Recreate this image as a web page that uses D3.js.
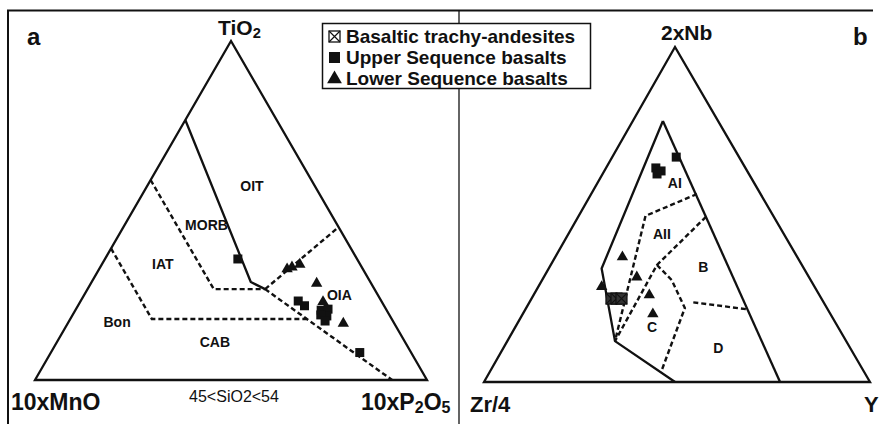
<!DOCTYPE html>
<html>
<head>
<meta charset="utf-8">
<script src="https://cdn.jsdelivr.net/npm/d3@7"></script>
<style>
  html, body { margin: 0; padding: 0; background: #fff; }
  svg { display: block; }
  text { font-family: "Liberation Sans", Arial, Helvetica, sans-serif; fill: #111; }
</style>
</head>
<body>
<svg id="chart" width="880" height="424"></svg>
<script>
// ---------- Diagram a: TiO2 – 10xMnO – 10xP2O5 (values as [TiO2, MnO, P2O5]) ----------
const mullenSolid = [
  [[76.7, 23.3, 0], [28.9, 30.5, 40.6], [26.8, 27.9, 45.3]]
];
const mullenDashed = [
  [[26.8, 27.9, 45.3], [0, 8.9, 91.1]],
  [[26.8, 27.9, 45.3], [45.1, 0, 54.9]],
  [[59.0, 41.0, 0], [26.8, 41.0, 32.2], [26.8, 27.9, 45.3]],
  [[38.8, 61.2, 0], [18.0, 61.2, 20.8], [18.0, 21.7, 60.3]]
];
const mullenFields = ["OIT", "MORB", "IAT", "Bon", "CAB", "OIA"];
const mullenFieldAt = [[57.3, 16.0, 26.7], [45.7, 33.4, 20.9], [34.2, 50.3, 15.5], [17.1, 70.5, 12.4], [11.2, 48.5, 40.3], [25.1, 9.8, 65.1]];
const mullenUpper = [
  [35.7, 30.4, 33.9], [23.3, 21.2, 55.5], [21.9, 20.3, 57.8],
  [20.6, 16.7, 62.7], [20.9, 14.8, 64.3], [18.9, 16.1, 65.0],
  [19.2, 17.5, 63.3], [17.4, 17.3, 65.3], [8.1, 13.1, 78.8]
];
const mullenLower = [
  [32.7, 19.3, 47.9], [33.3, 17.8, 48.9], [34.1, 15.4, 50.5],
  [28.5, 13.9, 57.6], [23.1, 15.0, 62.0], [16.7, 13.0, 70.3]
];

// ---------- Diagram b: 2xNb – Zr/4 – Y (values as [2Nb, Zr/4, Y]) ----------
const meschedeSolid = [
  [[77.9, 14.3, 7.8], [33.9, 52.4, 13.7], [12.2, 59.9, 27.9], [0, 50.5, 49.5]],
  [[77.9, 14.3, 7.8], [0, 23.3, 76.7]]
];
const meschedeDashed = [
  [[56.1, 16.5, 27.4], [49.6, 33.1, 17.3], [12.2, 59.9, 27.9]],
  [[49.3, 17.6, 33.1], [34.9, 37.5, 27.5], [12.2, 59.9, 27.9]],
  [[34.9, 37.5, 27.5], [30.4, 36.0, 33.6], [22.1, 36.8, 41.1], [3.0, 52.6, 44.4]],
  [[23.8, 33.8, 42.5], [21.7, 20.8, 57.5]]
];
const meschedeFields = ["AI", "AII", "B", "C", "D"];
const meschedeFieldAt = [[59.5, 20.5, 20.0], [44.2, 31.6, 24.2], [34.4, 25.8, 39.8], [16.5, 48.1, 35.4], [10.2, 34.1, 55.6]];
const meschedeTrachy = [[24.9, 54.4, 20.7], [24.9, 53.1, 22.0], [24.9, 51.8, 23.3]];
const meschedeUpper = [[63.9, 23.2, 12.9], [63.0, 22.3, 14.7], [62.1, 23.8, 14.1], [67.2, 16.3, 16.6]];
const meschedeLower = [[37.3, 45.3, 17.4], [31.3, 44.6, 24.1], [28.4, 55.1, 16.4], [26.0, 44.1, 30.0], [20.3, 46.0, 33.7]];

const legendLabels = ["Basaltic trachy-andesites", "Upper Sequence basalts", "Lower Sequence basalts"];

// ---------- drawing ----------
const svg = d3.select("#chart");
svg.append("rect").attr("width", 880).attr("height", 424).attr("fill", "#fff");

// outer frame and panel divider
svg.append("path").attr("d", "M8,430 L8,10.5 L873,10.5").attr("fill", "none").attr("stroke", "#111").attr("stroke-width", 2);
svg.append("line").attr("x1", 459).attr("x2", 459).attr("y1", 10).attr("y2", 430).attr("stroke", "#111").attr("stroke-width", 1.3);

// ternary projection built on two linear scales
function ternary(tri) {
  const x = d3.scaleLinear().domain([0, 1]).range([tri.L[0], tri.R[0]]);
  const y = d3.scaleLinear().domain([0, 1]).range([tri.L[1], tri.T[1]]);
  const apex = (tri.T[0] - tri.L[0]) / (tri.R[0] - tri.L[0]);
  return ([a, b, c]) => {
    const s = a + b + c, t = a / s, r = c / s;
    return [x(r + t * apex), y(t)];
  };
}

const line = d3.line();

function drawPanel(g, proj, spec) {
  // triangle outline
  g.append("path").attr("d", line([[100, 0, 0], [0, 100, 0], [0, 0, 100]].map(proj)) + "Z")
    .attr("fill", "none").attr("stroke", "#111").attr("stroke-width", 2.3).attr("stroke-linejoin", "miter");
  g.selectAll(null).data(spec.dashed).join("path")
    .attr("d", d => line(d.map(proj)))
    .attr("fill", "none").attr("stroke", "#111").attr("stroke-width", 2.4).attr("stroke-dasharray", "5,3");
  g.selectAll(null).data(spec.solid).join("path")
    .attr("d", d => line(d.map(proj)))
    .attr("fill", "none").attr("stroke", "#111").attr("stroke-width", 2.3).attr("stroke-linejoin", "round");
  g.selectAll(null).data(spec.fields).join("text")
    .attr("x", (d, i) => proj(spec.fieldAt[i])[0])
    .attr("y", (d, i) => proj(spec.fieldAt[i])[1])
    .attr("text-anchor", "middle").attr("dominant-baseline", "central")
    .attr("font-size", 14).attr("font-weight", "bold").text(d => d);
}

const squareSym = d3.symbol().type(d3.symbolSquare).size(81);
const triSym = d3.symbol().type(d3.symbolTriangle).size(56);

function drawPoints(g, proj, pts, kind) {
  if (kind === "square") {
    g.selectAll(null).data(pts).join("path")
      .attr("transform", d => `translate(${proj(d)})`).attr("d", squareSym()).attr("fill", "#111");
  } else if (kind === "triangle") {
    g.selectAll(null).data(pts).join("path")
      .attr("transform", d => `translate(${proj(d)})`).attr("d", triSym()).attr("fill", "#111");
  } else {
    const s = 5.5;
    const cell = g.selectAll(null).data(pts).join("g").attr("transform", d => `translate(${proj(d)})`);
    cell.append("rect").attr("x", -s).attr("y", -s).attr("width", 2 * s).attr("height", 2 * s)
      .attr("fill", "#333").attr("stroke", "#111").attr("stroke-width", 1.2);
    cell.append("path").attr("d", `M${-s},${-s}L${s},${s}M${s},${-s}L${-s},${s}`)
      .attr("stroke", "#111").attr("stroke-width", 1.2);
  }
}

// panel a
const projA = ternary({ L: [35, 380], R: [427, 380], T: [231, 41] });
const gA = svg.append("g");
drawPanel(gA, projA, { solid: mullenSolid, dashed: mullenDashed, fields: mullenFields, fieldAt: mullenFieldAt });
drawPoints(gA, projA, mullenUpper, "square");
drawPoints(gA, projA, mullenLower, "triangle");

// panel b
const projB = ternary({ L: [484, 382], R: [870, 382], T: [675, 47] });
const gB = svg.append("g");
drawPanel(gB, projB, { solid: meschedeSolid, dashed: meschedeDashed, fields: meschedeFields, fieldAt: meschedeFieldAt });
drawPoints(gB, projB, meschedeTrachy, "crossed");
drawPoints(gB, projB, meschedeUpper, "square");
drawPoints(gB, projB, meschedeLower, "triangle");

// corner and panel labels
function label(x, y, parts, size, weight = "bold") {
  const t = svg.append("text").attr("x", x).attr("y", y).attr("font-size", size).attr("font-weight", weight);
  parts.forEach(p => {
    if (typeof p === "string") t.append("tspan").text(p);
    else t.append("tspan").attr("font-size", size * 0.7).attr("dy", p.dy).text(p.sub);
  });
  return t;
}
label(27, 45, ["a"], 24);
label(853, 45, ["b"], 24);
label(218, 35, ["TiO", { sub: "2", dy: 3 }], 21);
label(661, 40, ["2xNb"], 21);
label(11, 410, ["10xMnO"], 23);
const p2 = svg.append("text").attr("x", 361).attr("y", 410).attr("font-size", 23).attr("font-weight", "bold");
p2.append("tspan").text("10xP");
p2.append("tspan").attr("font-size", 16).attr("dy", 3).text("2");
p2.append("tspan").attr("dy", -3).text("O");
p2.append("tspan").attr("font-size", 16).attr("dy", 3).text("5");
label(234, 402, ["45<SiO2<54"], 16, "normal").attr("text-anchor", "middle");
label(470, 412, ["Zr/4"], 22);
label(864, 412, ["Y"], 22);

// legend
const lg = svg.append("g");
lg.append("rect").attr("x", 322.5).attr("y", 23.5).attr("width", 268).attr("height", 65)
  .attr("fill", "#fff").attr("stroke", "#111").attr("stroke-width", 1.5);
const rowY = [36.5, 57.5, 78];
lg.selectAll(null).data(legendLabels).join("text")
  .attr("x", 346).attr("y", (d, i) => rowY[i]).attr("dominant-baseline", "central")
  .attr("font-size", 19).attr("font-weight", "bold").text(d => d);
// crossed square
lg.append("rect").attr("x", 329).attr("y", rowY[0] - 5.5).attr("width", 11).attr("height", 11)
  .attr("fill", "#fff").attr("stroke", "#111").attr("stroke-width", 1.3);
lg.append("path").attr("d", `M329,${rowY[0] - 5.5}l11,11M340,${rowY[0] - 5.5}l-11,11`)
  .attr("stroke", "#111").attr("stroke-width", 1.2);
lg.append("rect").attr("x", 329).attr("y", rowY[1] - 5.5).attr("width", 11).attr("height", 11).attr("fill", "#111");
lg.append("path").attr("transform", `translate(334.5,${rowY[2] + 1})`)
  .attr("d", d3.symbol().type(d3.symbolTriangle).size(95)()).attr("fill", "#111");
</script>
</body>
</html>
